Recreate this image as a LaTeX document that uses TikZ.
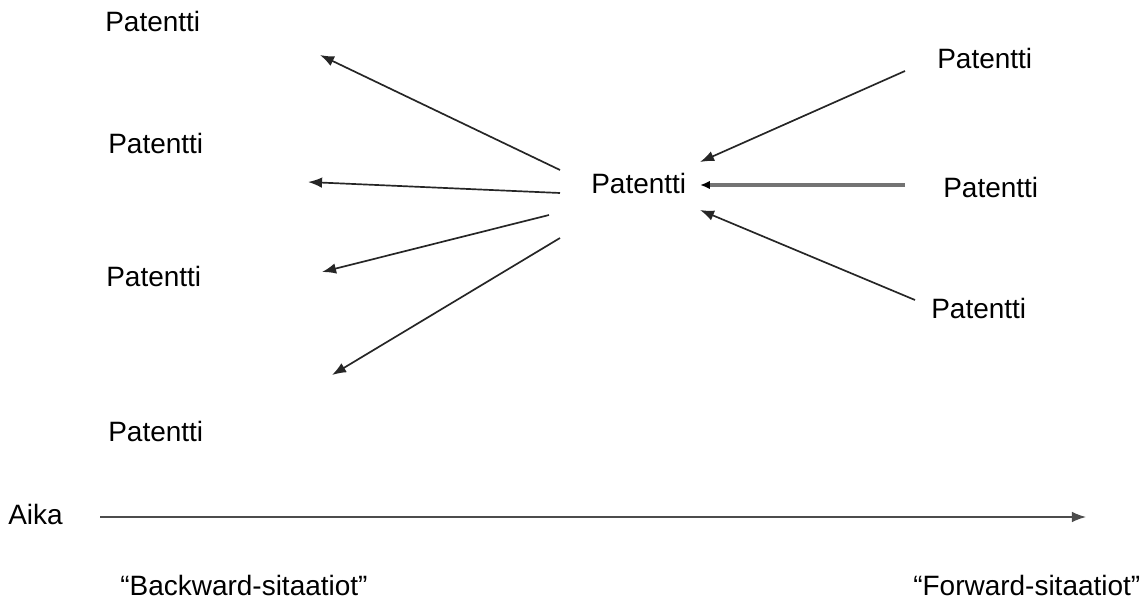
\documentclass[tikz,border=0pt]{standalone}
\usepackage{fontspec}
\setmainfont{Liberation Sans}
\usetikzlibrary{arrows.meta}

\begin{document}
\begin{tikzpicture}[x = 0.025cm, y = -0.025cm,
		label text/.style = {anchor = base west, inner sep = 0pt, font = \fontsize{19.9}{24}\selectfont},
		citation/.style = {-{Latex[length = 10pt, width = 7.5pt]}, line width = 1.2pt, black!85}]
		\useasboundingbox (0,0) rectangle (1144,604);
		
		\begin{scope}
			\node [label text] (older1) at (105,32) {Patentti};
			\node [label text] (older2) at (108,153) {Patentti};
			\node [label text] (older3) at (106,286) {Patentti};
			\node [label text] (older4) at (108,441) {Patentti};
		\end{scope}
		
		\begin{scope}
			\node [label text] (focal) at (591,193) {Patentti};
		\end{scope}
		
		\begin{scope}
			\node [label text] (newer1) at (937,69) {Patentti};
			\node [label text] (newer2) at (943,197) {Patentti};
			\node [label text] (newer3) at (931,318) {Patentti};
		\end{scope}
		
		\begin{scope}
			\coordinate (out1) at (560,170);
			\coordinate (out2) at (560,193);
			\coordinate (out3) at (549,215);
			\coordinate (out4) at (560,238);
			\coordinate (cite1) at (320,55);
			\coordinate (cite2) at (308,182);
			\coordinate (cite3) at (322,272);
			\coordinate (cite4) at (332,375);
			\draw [citation] (out1) -- (cite1);
			\draw [citation] (out2) -- (cite2);
			\draw [citation] (out3) -- (cite3);
			\draw [citation] (out4) -- (cite4);
		\end{scope}
		
		\begin{scope}
			\coordinate (in1) at (905,71);
			\coordinate (in2) at (905,185);
			\coordinate (in3) at (915,300);
			\coordinate (tip1) at (700,162);
			\coordinate (tip2) at (700,185);
			\coordinate (tip3) at (700,210);
			\draw [citation] (in1) -- (tip1);
			\draw [-{Latex[length = 7pt, width = 6pt, black]}, line width = 2.2pt, black!55] (in2) -- (tip2);
			\draw [citation] (in3) -- (tip3);
		\end{scope}
		
		\begin{scope}
			\node [label text] (aika) at (8,524) {Aika};
			\coordinate (start) at (100,517);
			\coordinate (end) at (1086,517);
			\draw [citation, line width = 0.9pt, black!70] (start) -- (end);
			\node [label text] (backward) at (120,595) {“Backward-sitaatiot”};
			\node [label text] (forward) at (913,595) {“Forward-sitaatiot”};
		\end{scope}
	\end{tikzpicture}
\end{document}
